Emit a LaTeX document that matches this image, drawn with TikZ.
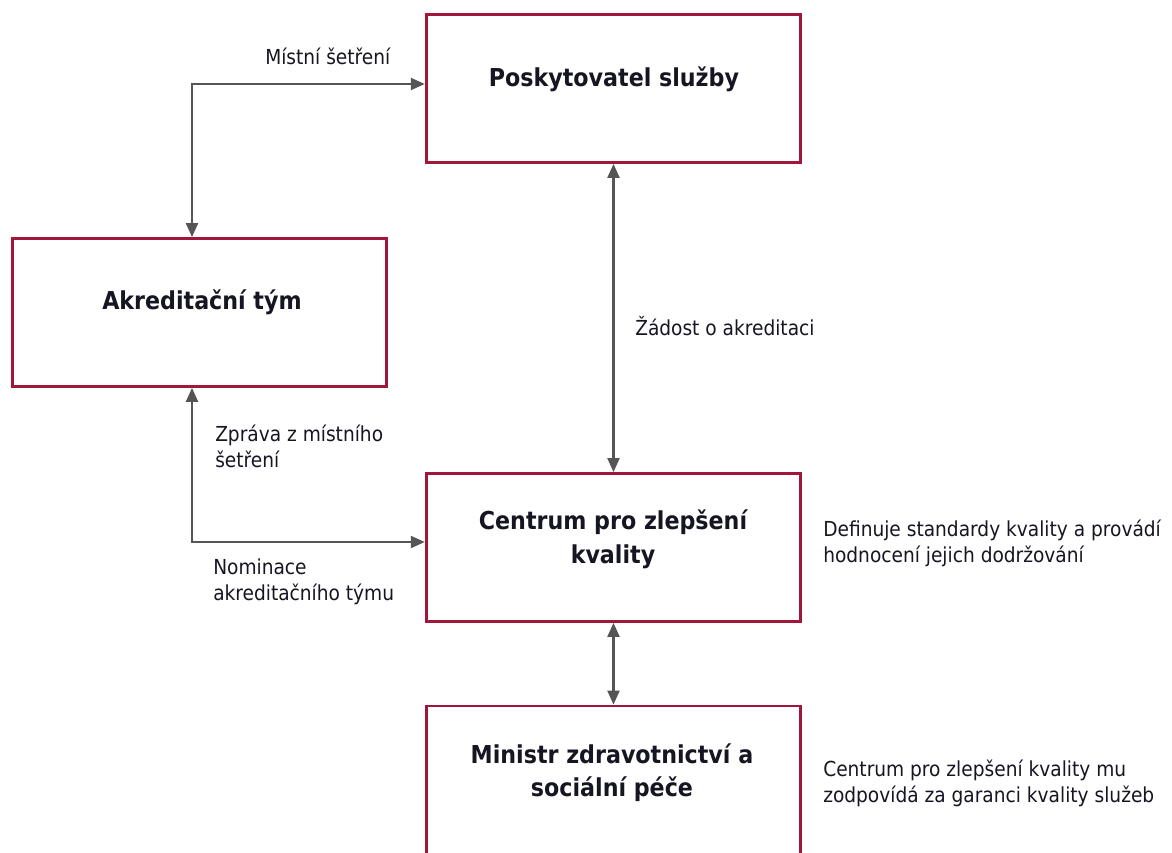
\documentclass[tikz,border=0pt]{standalone}
\usepackage{fontspec}
\setmainfont{DejaVu Sans Condensed}
\usetikzlibrary{arrows.meta}
\definecolor{boxred}{RGB}{163,22,60}
\definecolor{linkgray}{RGB}{85,85,85}
\definecolor{ink}{RGB}{22,22,34}
\begin{document}
\begin{tikzpicture}[x=0.75pt,y=-0.75pt,
  box/.style={draw=boxred,line width=2.1pt,fill=white,inner sep=0pt,
    minimum width=281pt,minimum height=111pt},
  title/.style={font=\bfseries\fontsize{18.5}{25}\selectfont,text=ink,anchor=base,
    align=center,inner sep=0pt},
  note/.style={font=\fontsize{15.5}{19.5}\selectfont,text=ink,anchor=base west,
    align=left,inner sep=0pt},
  link/.style={draw=linkgray,line width=1.6pt,
    {Triangle[length=10.5pt,width=9pt]}-{Triangle[length=10.5pt,width=9pt]}}]
\useasboundingbox (0,0) rectangle (1172,853);

% boxes
\node[box] (P) at (613.5,88.5) {};
\node[box] (A) at (199.5,312.5) {};
\node[box] (C) at (613.5,547.5) {};
\node[box,minimum height=114pt] (M) at (613.5,782) {};

% box titles
\node[title] (Pt) at (614,86) {Poskytovatel služby};
\node[title] (At) at (202,309) {Akreditační tým};
\node[title] (Ct1) at (613,529) {Centrum pro zlepšení};
\node[title] (Ct2) at (613,563) {kvality};
\node[title] (Mt1) at (612,763) {Ministr zdravotnictví a};
\node[title] (Mt2) at (612,796) {sociální péče};

% connectors
\coordinate (k1) at (192,84);
\coordinate (k2) at (192,542);
\draw[link] (A.north -| k1) -- (k1) -- (k1 -| P.west);
\draw[link] (A.south -| k2) -- (k2) -- (k2 -| C.west);
\draw[link] (P.south) -- (C.north);
\draw[link] (C.south) -- (M.north);

% connector labels and side notes (anchored on the last line's baseline)
\node[note] (l1) at (265,64) {Místní šetření};
\node[note] (l2) at (635,335) {Žádost o akreditaci};
\node[note] (l3) at (215,467) {Zpráva z místního\\šetření};
\node[note] (l4) at (213,600) {Nominace\\akreditačního týmu};
\node[note] (n1) at (823,562) {Definuje standardy kvality a provádí\\hodnocení jejich dodržování};
\node[note] (n2) at (823,802) {Centrum pro zlepšení kvality mu\\zodpovídá za garanci kvality služeb};
\end{tikzpicture}
\end{document}
